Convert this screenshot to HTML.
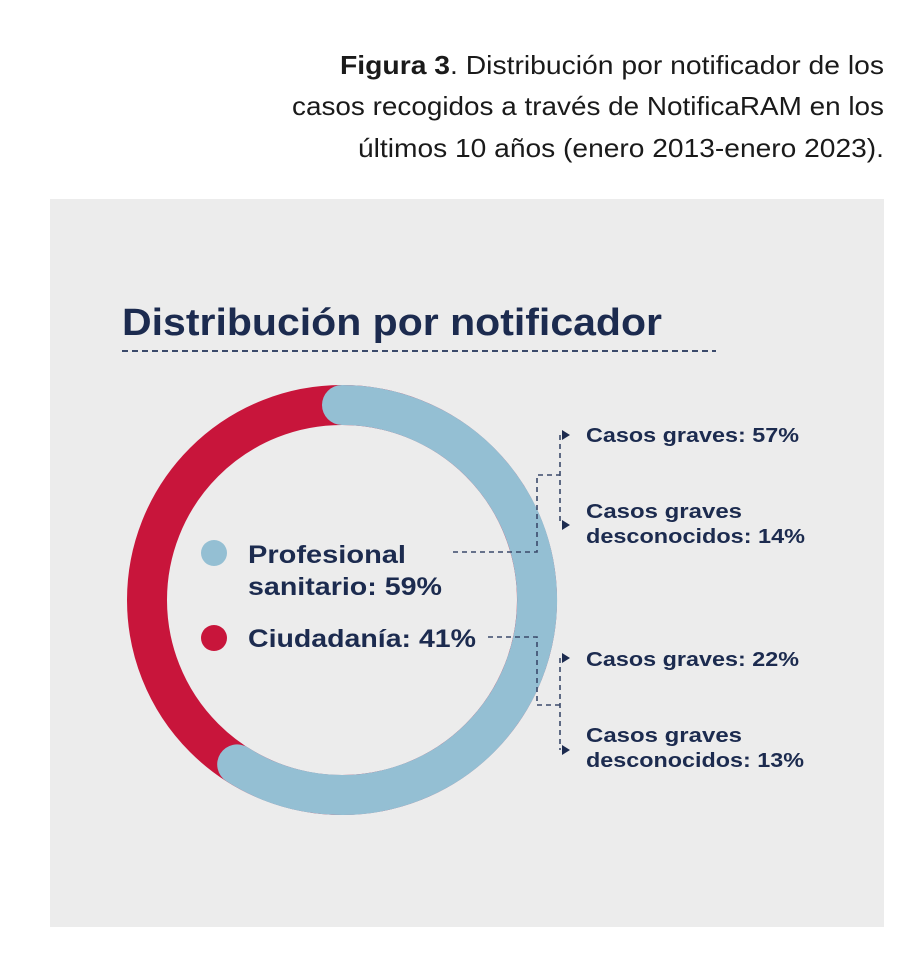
<!DOCTYPE html>
<html><head><meta charset="utf-8"><style>
html,body{margin:0;padding:0;background:#fff;}
svg{display:block;}
</style></head><body>
<svg width="924" height="966" viewBox="0 0 924 966" xmlns="http://www.w3.org/2000/svg">
<rect width="924" height="966" fill="#fff"/>
<g font-family="Liberation Sans, sans-serif" font-size="26" fill="#1a1a1a">
<text x="340" y="74" textLength="544" lengthAdjust="spacingAndGlyphs"><tspan font-weight="bold">Figura 3</tspan>. Distribución por notificador de los</text>
<text x="292" y="115" textLength="592" lengthAdjust="spacingAndGlyphs">casos recogidos a través de NotificaRAM en los</text>
<text x="358" y="157" textLength="526" lengthAdjust="spacingAndGlyphs">últimos 10 años (enero 2013-enero 2023).</text>
</g>
<rect x="50" y="199" width="834" height="728" fill="#ececec"/>
<text x="122" y="335" font-family="Liberation Sans, sans-serif" font-weight="bold" font-size="38" fill="#1c2b4f" textLength="540" lengthAdjust="spacingAndGlyphs">Distribución por notificador</text>
<line x1="122" y1="351" x2="716" y2="351" stroke="#3b4a6b" stroke-width="2" stroke-dasharray="6,4"/>
<circle cx="342" cy="600" r="195" fill="none" stroke="#c8153b" stroke-width="40"/>
<path d="M342 405 A195 195 0 1 1 237.2 764.4" fill="none" stroke="#94bfd3" stroke-width="40" stroke-linecap="round"/>
<circle cx="214" cy="553" r="13" fill="#94bfd3"/>
<circle cx="214" cy="638" r="13" fill="#c8153b"/>
<g font-family="Liberation Sans, sans-serif" font-weight="bold" font-size="25" fill="#1c2b4f">
<text x="248" y="563" textLength="158" lengthAdjust="spacingAndGlyphs">Profesional</text>
<text x="248" y="595" textLength="194" lengthAdjust="spacingAndGlyphs">sanitario: 59%</text>
<text x="248" y="647" textLength="228" lengthAdjust="spacingAndGlyphs">Ciudadanía: 41%</text>
</g>
<g font-family="Liberation Sans, sans-serif" font-weight="bold" font-size="20" fill="#1c2b4f">
<text x="586" y="442" textLength="213" lengthAdjust="spacingAndGlyphs">Casos graves: 57%</text>
<text x="586" y="518" textLength="156" lengthAdjust="spacingAndGlyphs">Casos graves</text>
<text x="586" y="543" textLength="219" lengthAdjust="spacingAndGlyphs">desconocidos: 14%</text>
<text x="586" y="666" textLength="213" lengthAdjust="spacingAndGlyphs">Casos graves: 22%</text>
<text x="586" y="742" textLength="156" lengthAdjust="spacingAndGlyphs">Casos graves</text>
<text x="586" y="767" textLength="218" lengthAdjust="spacingAndGlyphs">desconocidos: 13%</text>
</g>
<g fill="none" stroke="#3b4a6b" stroke-width="1.6" stroke-dasharray="5,4">
<path d="M453 552 H537 V475 H560"/>
<path d="M560 435 V525"/>
<path d="M488 637 H537 V705 H560"/>
<path d="M560 658 V750"/>
</g>
<g fill="#1c2b4f">
<path d="M562 430 L570 435 L562 440 Z"/>
<path d="M562 520 L570 525 L562 530 Z"/>
<path d="M562 653 L570 658 L562 663 Z"/>
<path d="M562 745 L570 750 L562 755 Z"/>
</g>
</svg>
</body></html>
